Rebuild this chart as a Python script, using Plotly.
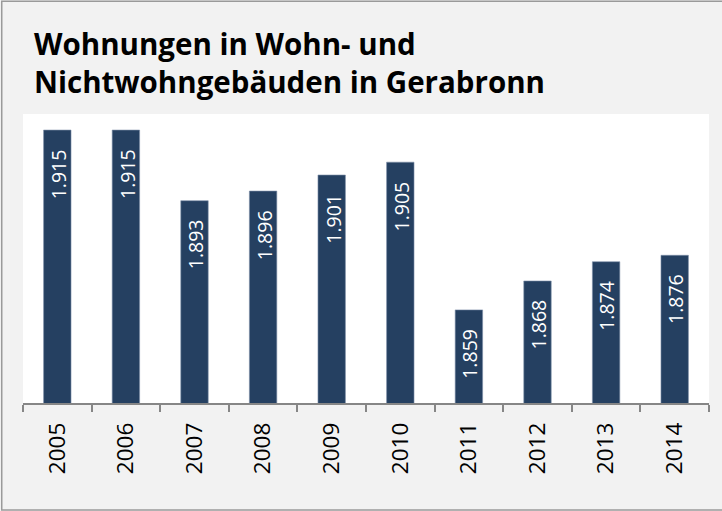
import plotly.graph_objects as go

years = ["2005", "2006", "2007", "2008", "2009", "2010", "2011", "2012", "2013", "2014"]
wohnungen = [1915, 1915, 1893, 1896, 1901, 1905, 1859, 1868, 1874, 1876]
labels = [f"{v / 1000:.3f}" for v in wohnungen]

bar_color = "#254061"

fig = go.Figure(go.Bar(
    x=years, y=wohnungen,
    marker=dict(color=bar_color, line=dict(color="#7f91aa", width=0.6)),
    hoverinfo="x+y",
))

# value labels inside the bars; x given as category index
for i, (v, lab) in enumerate(zip(wohnungen, labels)):
    fig.add_annotation(
        x=i, y=v, text=lab, showarrow=False, textangle=-90,
        yanchor="top", yshift=-17, xshift=1,
        font=dict(family="Open Sans", size=19.5, color="white"),
    )

# outer frame of the chart box
fig.add_shape(type="rect", xref="paper", yref="paper",
              x0=-0.031, x1=1.05, y0=-0.37, y1=1.39,
              line=dict(color="#9a9a9a", width=1.5), fillcolor="rgba(0,0,0,0)", layer="below")

fig.update_layout(
    width=722, height=511,
    margin=dict(l=23, r=13, t=114, b=108, autoexpand=False),
    paper_bgcolor="#f2f2f2", plot_bgcolor="white",
    bargap=0.6, showlegend=False,
    font=dict(family="Open Sans", color="black"),
    title=dict(
        text="<b>Wohnungen in Wohn- und<br>Nichtwohngebäuden in Gerabronn</b>",
        xref="container", yref="container", x=34 / 722, xanchor="left",
        y=1 - 55 / 511, yanchor="top",
        font=dict(family="Open Sans", size=29.5, color="black"),
    ),
    xaxis=dict(
        type="category", showgrid=False, showline=True, linecolor="#868686", linewidth=1.5,
        ticks="outside", tickson="boundaries", ticklen=7, tickwidth=1.5, tickcolor="#868686",
        tickangle=-90, tickfont=dict(family="Open Sans", size=22.5, color="black"),
        ticklabelstandoff=9, automargin=False,
    ),
    yaxis=dict(range=[1830, 1920], visible=False, showgrid=False),
)

fig.write_html("out.html", config={"displayModeBar": False},
               post_script="document.body.style.margin='0';")
